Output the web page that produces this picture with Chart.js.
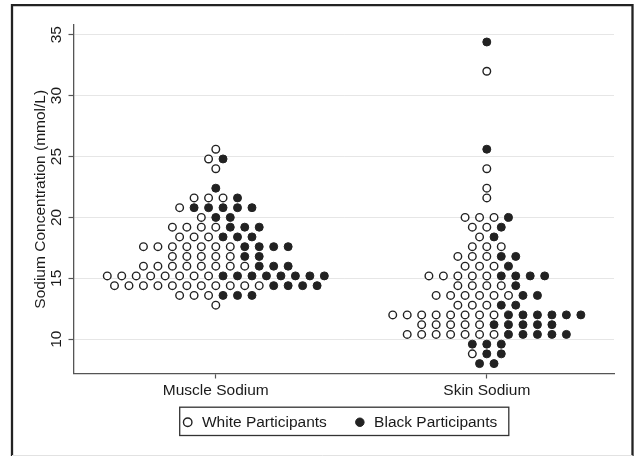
<!DOCTYPE html>
<html>
<head>
<meta charset="utf-8">
<script src="https://cdn.jsdelivr.net/npm/chart.js@4.4.1/dist/chart.umd.min.js"></script>
<style>
    html, body { margin: 0; padding: 0; background: #fff; }
</style>
</head>
<body>
<canvas id="sodiumChart" width="635" height="456"></canvas>
<script>
// categories on the x axis
var categories = ['Muscle Sodium', 'Skin Sodium'];
var yTicks = [10, 15, 20, 25, 30, 35];

// dot plot bins (mmol/L), one row of dots per bin
var binLevels = [8.0, 8.8, 9.6, 10.4, 11.2, 12.0, 12.8, 13.6, 14.4, 15.2, 16.0, 16.8,
    17.6, 18.4, 19.2, 20.0, 20.8, 21.6, 22.4, 23.2, 24.0, 24.8, 25.6, 26.4,
    27.2, 28.0, 28.8, 29.6, 30.4, 31.2, 32.0, 32.8, 33.6, 34.4];

// number of participants in each bin
var muscleWhite = [0, 0, 0, 0, 0, 0, 1, 3, 11, 8, 8, 5, 7, 3, 4, 1, 1, 3, 0, 0, 1, 1, 1, 0, 0, 0, 0, 0, 0, 0, 0, 0, 0, 0];
var muscleBlack = [0, 0, 0, 0, 0, 0, 0, 3, 4, 8, 3, 2, 4, 3, 3, 2, 5, 1, 1, 0, 0, 1, 0, 0, 0, 0, 0, 0, 0, 0, 0, 0, 0, 0];
var skinWhite   = [0, 1, 0, 7, 5, 8, 3, 6, 4, 5, 3, 3, 3, 1, 2, 3, 0, 1, 1, 0, 1, 0, 0, 0, 0, 0, 0, 0, 0, 0, 1, 0, 0, 0];
var skinBlack   = [2, 2, 3, 5, 5, 6, 2, 2, 1, 4, 1, 2, 0, 1, 1, 1, 0, 0, 0, 0, 0, 0, 1, 0, 0, 0, 0, 0, 0, 0, 0, 0, 0, 1];

// horizontal distance between neighbouring dots, in x axis units
var dotStep = 0.0534;

var whitePoints = [];
var blackPoints = [];

// lay each bin out as a row centred on its category: white dots first, then black
function addRows(center, whiteCounts, blackCounts) {
    binLevels.forEach(function (level, i) {
        var n = whiteCounts[i] + blackCounts[i];
        for (var j = 0; j < n; j++) {
            var pt = { x: center + (j - (n - 1) / 2) * dotStep, y: level };
            if (j < whiteCounts[i]) whitePoints.push(pt); else blackPoints.push(pt);
        }
    });
}
addRows(1, muscleWhite, muscleBlack);
addRows(2, skinWhite, skinBlack);

Chart.defaults.font.family = '"Liberation Sans", Arial, Helvetica, sans-serif';
Chart.defaults.color = '#1a1a1a';

// outer frame and the box round the legend
var frameBox = {
    id: 'frameBox',
    afterLayout: function (chart) {
        // pull the legend a little left and up, as in the original figure
        chart.legend.left -= 4.5;
        chart.legend.right -= 4.5;
        chart.legend.top -= 12.5;
        chart.legend.bottom -= 12.5;
    },
    afterDraw: function (chart) {
        var c = chart.ctx;
        c.save();
        c.strokeStyle = '#222';
        c.lineWidth = 2.3;
        c.beginPath();
        c.moveTo(12, 456);
        c.lineTo(12, 5.2);
        c.lineTo(632.5, 5.2);
        c.lineTo(632.5, 456);
        c.stroke();
        c.strokeStyle = '#e2e2e2';
        c.lineWidth = 1;
        c.beginPath();
        c.moveTo(12, 455.5);
        c.lineTo(632.5, 455.5);
        c.stroke();

        var hb = chart.legend.legendHitBoxes;
        if (hb && hb.length) {
            var last = hb[hb.length - 1];
            var l = hb[0].left - 1.5;
            var r = last.left + last.width + 11.5;
            var t = hb[0].top - 7.3;
            var b = hb[0].top + 21;
            c.strokeStyle = '#333';
            c.lineWidth = 1.3;
            c.strokeRect(l, t, r - l, b - t);
        }
        c.restore();
    }
};

var ctx = document.getElementById('sodiumChart').getContext('2d');
var sodiumChart = new Chart(ctx, {
    type: 'scatter',
    data: {
        datasets: [{
            label: 'White Participants',
            data: whitePoints,
            pointStyle: 'circle',
            backgroundColor: '#ffffff',
            borderColor: '#222222',
            borderWidth: 1.4,
            pointRadius: 3.8,
            pointHoverRadius: 3.8
        },
        {
            label: 'Black Participants',
            data: blackPoints,
            pointStyle: 'circle',
            backgroundColor: '#222222',
            borderColor: '#222222',
            borderWidth: 1,
            pointRadius: 4,
            pointHoverRadius: 4
        }]
    },
    options: {
        responsive: false,
        animation: false,
        layout: { padding: { left: 27, top: 25, right: 21, bottom: 3.5 } },
        plugins: {
            legend: {
                position: 'bottom',
                fullSize: false,
                labels: {
                    usePointStyle: true,
                    boxWidth: 13,
                    boxHeight: 6,
                    padding: 26.5,
                    color: '#1a1a1a',
                    font: { size: 15.5 }
                }
            },
            tooltip: { enabled: false }
        },
        scales: {
            x: {
                type: 'linear',
                min: 0.4749,
                max: 2.4694,
                afterBuildTicks: function (scale) {
                    scale.ticks = [{ value: 1 }, { value: 2 }];
                },
                afterFit: function (scale) {
                    scale.height = 27;
                    scale.paddingLeft = 0;
                    scale.paddingRight = 0;
                },
                ticks: {
                    autoSkip: false,
                    maxRotation: 0,
                    padding: 2.5,
                    color: '#1a1a1a',
                    font: { size: 15.5 },
                    callback: function (value, index) {
                        return categories[index];
                    }
                },
                grid: {
                    drawOnChartArea: false,
                    tickLength: 5,
                    tickColor: '#555',
                    tickWidth: 1.2
                },
                border: { color: '#555', width: 1.3 }
            },
            y: {
                min: 7.189,
                max: 35.795,
                afterBuildTicks: function (scale) {
                    scale.ticks = yTicks.map(function (v) { return { value: v }; });
                },
                afterFit: function (scale) {
                    scale.width = 46.5;
                    scale.paddingTop = 0;
                    scale.paddingBottom = 0;
                },
                ticks: {
                    minRotation: 90,
                    maxRotation: 90,
                    crossAlign: 'center',
                    padding: 3,
                    color: '#1a1a1a',
                    font: { size: 15.5 }
                },
                grid: {
                    color: '#e6e6e6',
                    lineWidth: 1,
                    tickLength: 5,
                    tickColor: '#555',
                    tickWidth: 1.2
                },
                border: { color: '#555', width: 1.3 },
                title: {
                    display: true,
                    text: 'Sodium Concentration (mmol/L)',
                    color: '#1a1a1a',
                    font: { size: 15.5 },
                    padding: { top: 4, bottom: 0 }
                }
            }
        }
    },
    plugins: [frameBox]
});
</script>
</body>
</html>
